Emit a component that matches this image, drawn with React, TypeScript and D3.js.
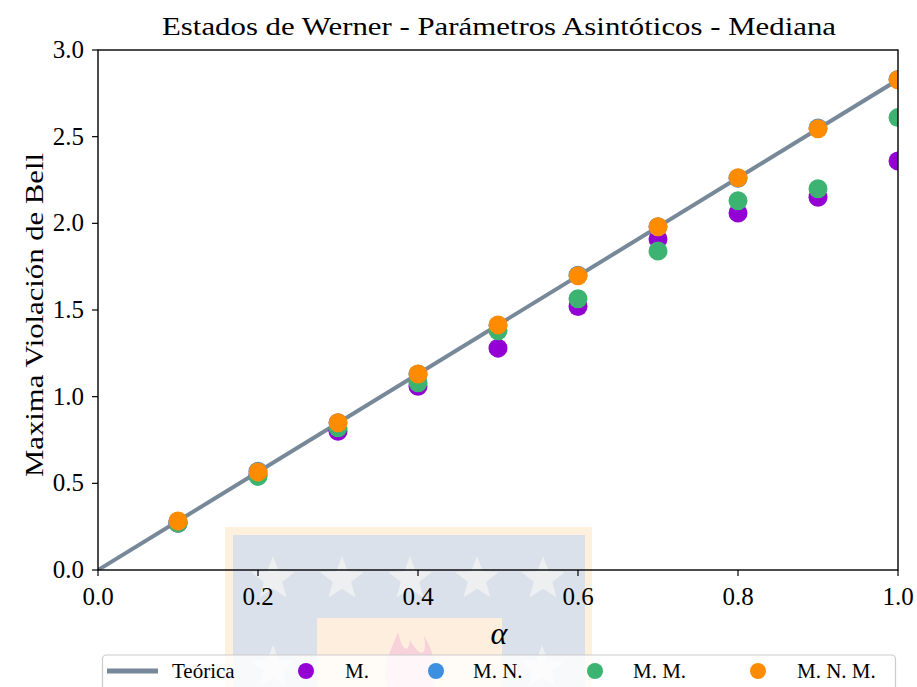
import React from "react";
import * as d3 from "d3";

const alphas = [0.1, 0.2, 0.3, 0.4, 0.5, 0.6, 0.7, 0.8, 0.9, 1.0];
const medM = [0.27, 0.55, 0.80, 1.06, 1.28, 1.52, 1.91, 2.06, 2.15, 2.36];
const medMN = [0.28, 0.57, 0.85, 1.13, 1.41, 1.70, 1.98, 2.26, 2.55, 2.83];
const medMM = [0.27, 0.54, 0.82, 1.08, 1.38, 1.565, 1.84, 2.13, 2.20, 2.61];
const medMNM = [0.283, 0.566, 0.849, 1.131, 1.414, 1.697, 1.98, 2.263, 2.546, 2.828];
const theoryX = [0, 1];
const theoryY = [0, 2.828];
const xTicks = [0, 0.2, 0.4, 0.6, 0.8, 1.0];
const yTicks = [0, 0.5, 1.0, 1.5, 2.0, 2.5, 3.0];
const legendLabels = ["Teórica", "M.", "M. N.", "M. M.", "M. N. M."];

const W = 917, H = 687;
const FONT = "'Liberation Serif', 'DejaVu Serif', serif";
const COLORS = { line: "#778899", m: "#9400D3", mn: "#3d8fe0", mm: "#3CB371", mnm: "#FF8C00" };

function starPath(cx: number, cy: number, R: number) {
  const r = R * 0.42;
  const pts: [number, number][] = [];
  for (let i = 0; i < 10; i++) {
    const a = -Math.PI / 2 + (i * Math.PI) / 5;
    const rr = i % 2 === 0 ? R : r;
    pts.push([cx + rr * Math.cos(a), cy + rr * Math.sin(a)]);
  }
  return d3.line()(pts) + "Z";
}

export default function App() {
  const x = d3.scaleLinear().domain([0, 1]).range([98, 898]);
  const y = d3.scaleLinear().domain([0, 3]).range([570, 50]);
  const [x0, x1] = x.range();
  const [y0, y1] = y.range();
  const line = d3.line<number>().x((_, i) => x(theoryX[i])).y((d) => y(d));

  const series = [
    { vals: medM, color: COLORS.m },
    { vals: medMN, color: COLORS.mn },
    { vals: medMM, color: COLORS.mm },
    { vals: medMNM, color: COLORS.mnm },
  ];

  const starsRow1 = [273, 342, 410, 477, 543];
  const starsRow2 = [273, 542];

  const legendDot = [306, 436, 595, 758];
  const legendText = [172, 345, 473, 633, 797];

  return (
    <svg width={W} height={H} style={{ position: "absolute", left: 0, top: 0 }} fontFamily={FONT}>
      <rect x={0} y={0} width={W} height={H} fill="white" />
      <defs>
        <clipPath id="plotclip">
          <rect x={x0} y={y1} width={x1 - x0} height={y0 - y1} />
        </clipPath>
      </defs>

      {/* watermark */}
      <g>
        <rect x={225} y={527} width={367} height={170} fill="#fdf0dc" />
        <rect x={233} y={535} width={352} height={160} fill="#dbe1ea" />
        {starsRow1.map((sx) => (
          <path key={"s1" + sx} d={starPath(sx, 579, 23)} fill="#eeeff1" />
        ))}
        <rect x={317} y={618} width={185} height={80} fill="#fdeedd" />
        {starsRow2.map((sx) => (
          <path key={"s2" + sx} d={starPath(sx, 668, 23)} fill="#eeeff1" />
        ))}
        <path d="M388,690 C380,665 392,650 398,632 C402,650 408,655 410,640 C418,655 428,660 424,636 C436,655 438,675 432,690 Z" fill="#f8d2da" />
      </g>

      {/* theoretical line */}
      <g clipPath="url(#plotclip)">
        <path d={line(theoryY) || ""} fill="none" stroke={COLORS.line} strokeWidth={4} />
        {series.map((s, si) => (
          <g key={si}>
            {s.vals.map((v, i) => (
              <circle key={i} cx={x(alphas[i])} cy={y(v)} r={9.5} fill={s.color} />
            ))}
          </g>
        ))}
      </g>

      {/* spines */}
      <rect x={x0} y={y1} width={x1 - x0} height={y0 - y1} fill="none" stroke="black" strokeWidth={1.4} />

      {/* x ticks */}
      {xTicks.map((t) => (
        <g key={"x" + t}>
          <line x1={x(t)} x2={x(t)} y1={y0} y2={y0 + 6} stroke="black" strokeWidth={1.2} />
          <text x={x(t)} y={605} fontSize={25} textAnchor="middle">{t.toFixed(1)}</text>
        </g>
      ))}
      {/* y ticks */}
      {yTicks.map((t) => (
        <g key={"y" + t}>
          <line x1={x0 - 6} x2={x0} y1={y(t)} y2={y(t)} stroke="black" strokeWidth={1.2} />
          <text x={84} y={y(t) + 8} fontSize={25} textAnchor="end">{t.toFixed(1)}</text>
        </g>
      ))}

      {/* title */}
      <text x={499} y={35} fontSize={25} textAnchor="middle" textLength={674} lengthAdjust="spacingAndGlyphs">
        Estados de Werner - Parámetros Asintóticos - Mediana
      </text>
      {/* y label */}
      <text transform="translate(43,315) rotate(-90)" fontSize={25} textAnchor="middle" textLength={324} lengthAdjust="spacingAndGlyphs">
        Maxima Violación de Bell
      </text>
      {/* x label */}
      <text x={499} y={644} fontSize={32} fontStyle="italic" textAnchor="middle">α</text>

      {/* legend */}
      <rect x={102.5} y={655} width={793} height={60} rx={4} fill="white" fillOpacity={0.8} stroke="#cccccc" strokeWidth={1.2} />
      <line x1={107} x2={158} y1={671} y2={671} stroke={COLORS.line} strokeWidth={5} />
      {series.map((s, i) => (
        <circle key={"ld" + i} cx={legendDot[i]} cy={671} r={8} fill={s.color} />
      ))}
      {legendLabels.map((lab, i) => (
        <text key={"lt" + i} x={legendText[i]} y={678} fontSize={21}>{lab}</text>
      ))}
    </svg>
  );
}
